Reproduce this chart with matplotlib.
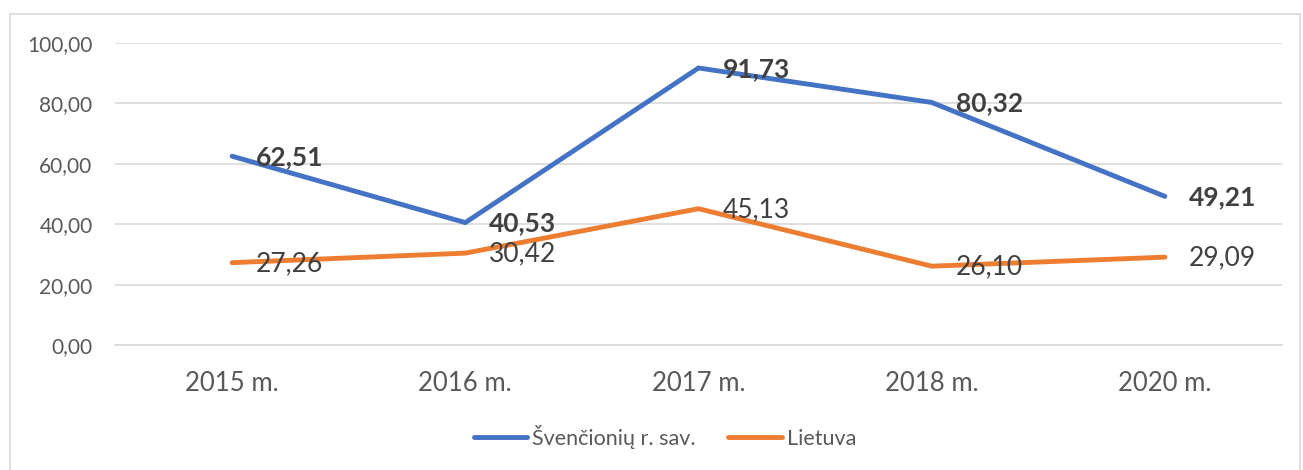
import matplotlib.pyplot as plt
from matplotlib.patches import Rectangle

years = ['2015 m.', '2016 m.', '2017 m.', '2018 m.', '2020 m.']
svencionys = [62.51, 40.53, 91.73, 80.32, 49.21]
lietuva = [27.26, 30.42, 45.13, 26.10, 29.09]

plt.rcParams['font.family'] = ['Lato', 'DejaVu Sans']

W, H = 1303, 470
fig = plt.figure(figsize=(W / 100, H / 100), dpi=100)
# light frame round the whole chart
fig.patches.append(Rectangle((10 / W, -0.01), 1290 / W, (H - 14) / H + 0.01,
                             transform=fig.transFigure, fill=False,
                             edgecolor='#d9d9d9', linewidth=1.2))

ax = fig.add_axes([115.5 / W, 125 / H, 1166 / W, 302 / H])
x = range(len(years))
ax.plot(x, svencionys, color='#4472C4', lw=3.5, solid_capstyle='round',
        label='Švenčionių r. sav.', clip_on=False, zorder=3)
ax.plot(x, lietuva, color='#ED7D31', lw=3.5, solid_capstyle='round',
        label='Lietuva', clip_on=False, zorder=3)

fmt = lambda v: f'{v:.2f}'.replace('.', ',')
# data labels sit to the right of each point
for i, v in enumerate(svencionys):
    ax.annotate(fmt(v), (i, v), xytext=(24, -1), textcoords='offset pixels',
                ha='left', va='center', fontsize=19, fontweight='bold',
                color='#404040', zorder=4)
for i, v in enumerate(lietuva):
    ax.annotate(fmt(v), (i, v), xytext=(24, -1), textcoords='offset pixels',
                ha='left', va='center', fontsize=19, color='#404040', zorder=4)

ax.set_xlim(-0.5, len(years) - 0.5)
ax.set_ylim(0, 100)
ax.set_yticks(range(0, 101, 20))
ax.set_yticklabels([fmt(t) for t in range(0, 101, 20)])
ax.set_xticks(list(x))
ax.set_xticklabels(years)
ax.grid(axis='y', color='#d9d9d9', lw=1.2)
ax.set_axisbelow(True)
for s in ['top', 'right', 'left']:
    ax.spines[s].set_visible(False)
ax.spines['bottom'].set_color('#d9d9d9')
ax.spines['bottom'].set_linewidth(1.2)
ax.tick_params(axis='y', length=0, pad=16.5, labelsize=15, labelcolor='#595959')
ax.tick_params(axis='x', length=0, pad=19, labelsize=18.5, labelcolor='#595959')

leg = fig.legend(loc='center', bbox_to_anchor=(665 / W, 1 - 437 / H), ncol=2,
                 frameon=False, fontsize=15.5, handlelength=2.5,
                 handletextpad=0.23, columnspacing=1.5)
for t in leg.get_texts():
    t.set_color('#595959')

fig.savefig('out.png', dpi=100)
